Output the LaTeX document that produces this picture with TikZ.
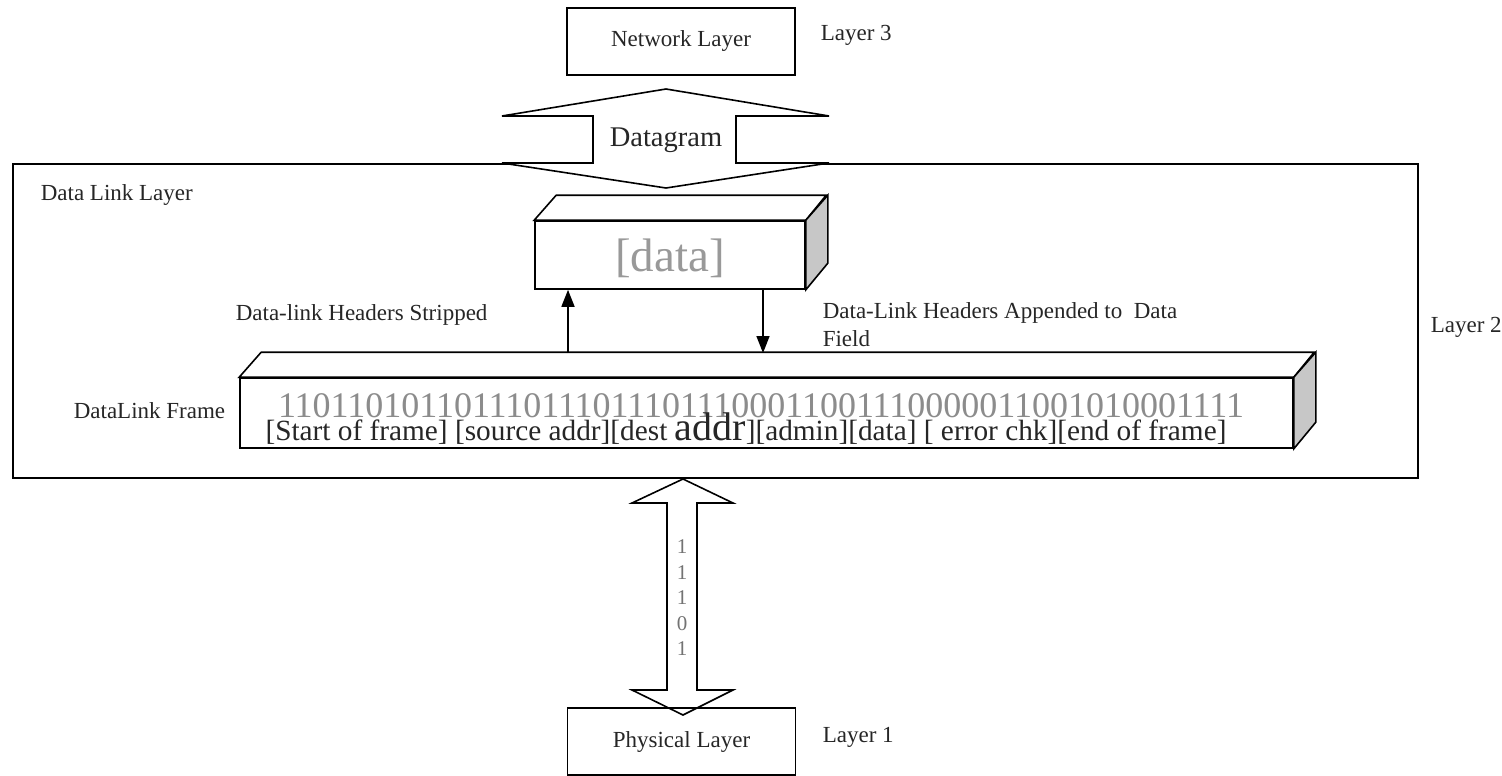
\documentclass[tikz,border=0pt]{standalone}
\usepackage{fontspec}
\setmainfont{Liberation Serif}
\usetikzlibrary{arrows.meta}
\begin{document}
\begin{tikzpicture}[x=1pt, y=-1pt, line join=miter,
  line width=1.6pt,
  box/.style={draw, line width=1.6pt, inner sep=0pt},
  lbl/.style={inner sep=0pt, text=black!85, font=\fontsize{23}{28}\selectfont},
  side/.style={draw, fill=black!22, line width=1.6pt},
  topface/.style={draw, fill=white, line width=1.6pt},
  flow/.style={draw, line width=1.6pt, -{Triangle[width=13pt,length=17pt]}},
  fat/.style={draw, fill=white, line width=1.6pt}]

\useasboundingbox (0,0) rectangle (1502,776);

% Data link layer container
\node[box, minimum width=1405pt, minimum height=314pt] (dll) at (715.5,321) {};
\node[lbl, anchor=base west] (dlltxt) at (40,200) {Data Link Layer};

% Network layer and the datagram double arrow
\node[box, minimum width=228pt, minimum height=67pt, font=\fontsize{23}{28}\selectfont, text=black!85] (net) at (681,41.5) {Network Layer};
\node[lbl, anchor=base west] (l3) at (820,41) {Layer 3};

\draw[fat] (666,89) -- (829,116) -- (736,116) -- (736,163) -- (829,163)
  -- (666,188) -- (502,163) -- (593,163) -- (593,116) -- (502,116) -- cycle;
\node[inner sep=0pt, font=\fontsize{28.5}{32}\selectfont, text=black!85] (dgram) at (666,140) {Datagram};

% [data] block
\node[box, fill=white, minimum width=270pt, minimum height=68pt] (data) at (670,255) {};
\draw[topface] (data.north west) -- ++(22,-25) -- ++(270,0) -- (data.north east) -- cycle;
\draw[side] (data.north east) -- ++(22,-25) -- ++(0,68) -- (data.south east) -- cycle;
\node[inner sep=0pt, font=\fontsize{47}{50}\selectfont, text=black!40] (datatxt) at (670,258) {[data]};

% Data link frame block
\node[box, fill=white, minimum width=1053pt, minimum height=70pt] (frame) at (766.5,413) {};
\draw[topface] (frame.north west) -- ++(22,-25) -- ++(1053,0) -- (frame.north east) -- cycle;
\draw[side] (frame.north east) -- ++(22,-25) -- ++(0,70) -- (frame.south east) -- cycle;
\coordinate (ftop) at (766,353);
\node[inner sep=0pt, anchor=base, font=\fontsize{36}{38}\selectfont, text=black!45] (bits) at (761,417)
  {1101101011011101110111011100011001110000011001010001111};
\node[inner sep=0pt, anchor=base, font=\fontsize{29.3}{32}\selectfont, text=black!85] (fields) at (746,440)
  {[Start of frame] [source addr][dest {\fontsize{40}{40}\selectfont addr}][admin][data] [ error chk][end of frame]};
\node[lbl, anchor=base west] (frametxt) at (73,418) {DataLink Frame};

% Arrows between the frame and the data block
\coordinate (upx) at (568,0);
\coordinate (downx) at (763,0);
\draw[flow] (upx |- ftop) -- (upx |- data.south);
\draw[flow] (downx |- data.south) -- (downx |- ftop);
\node[lbl, anchor=base west] (strip) at (235,320) {Data-link Headers Stripped};
\node[lbl, anchor=north west, align=left] (append) at (822,302) {Data-Link Headers Appended to\ \ Data\\Field};
\node[lbl, anchor=base west] (l2) at (1430,332) {Layer 2};

% Physical layer and the bit stream double arrow
\draw[fat] (683,479) -- (733,503) -- (697,503) -- (697,690) -- (733,690)
  -- (683,715) -- (632,690) -- (667,690) -- (667,503) -- (632,503) -- cycle;
\node[inner sep=0pt, align=center, font=\fontsize{21}{25.5}\selectfont, text=black!55] (bitstream) at (682,598) {1\\1\\1\\0\\1};
\node[box, minimum width=228pt, minimum height=67pt, font=\fontsize{23}{28}\selectfont, text=black!85] (phys) at (681.5,741.5) {Physical Layer};
\node[lbl, anchor=base west] (l1) at (822,742) {Layer 1};
\end{tikzpicture}
\end{document}
